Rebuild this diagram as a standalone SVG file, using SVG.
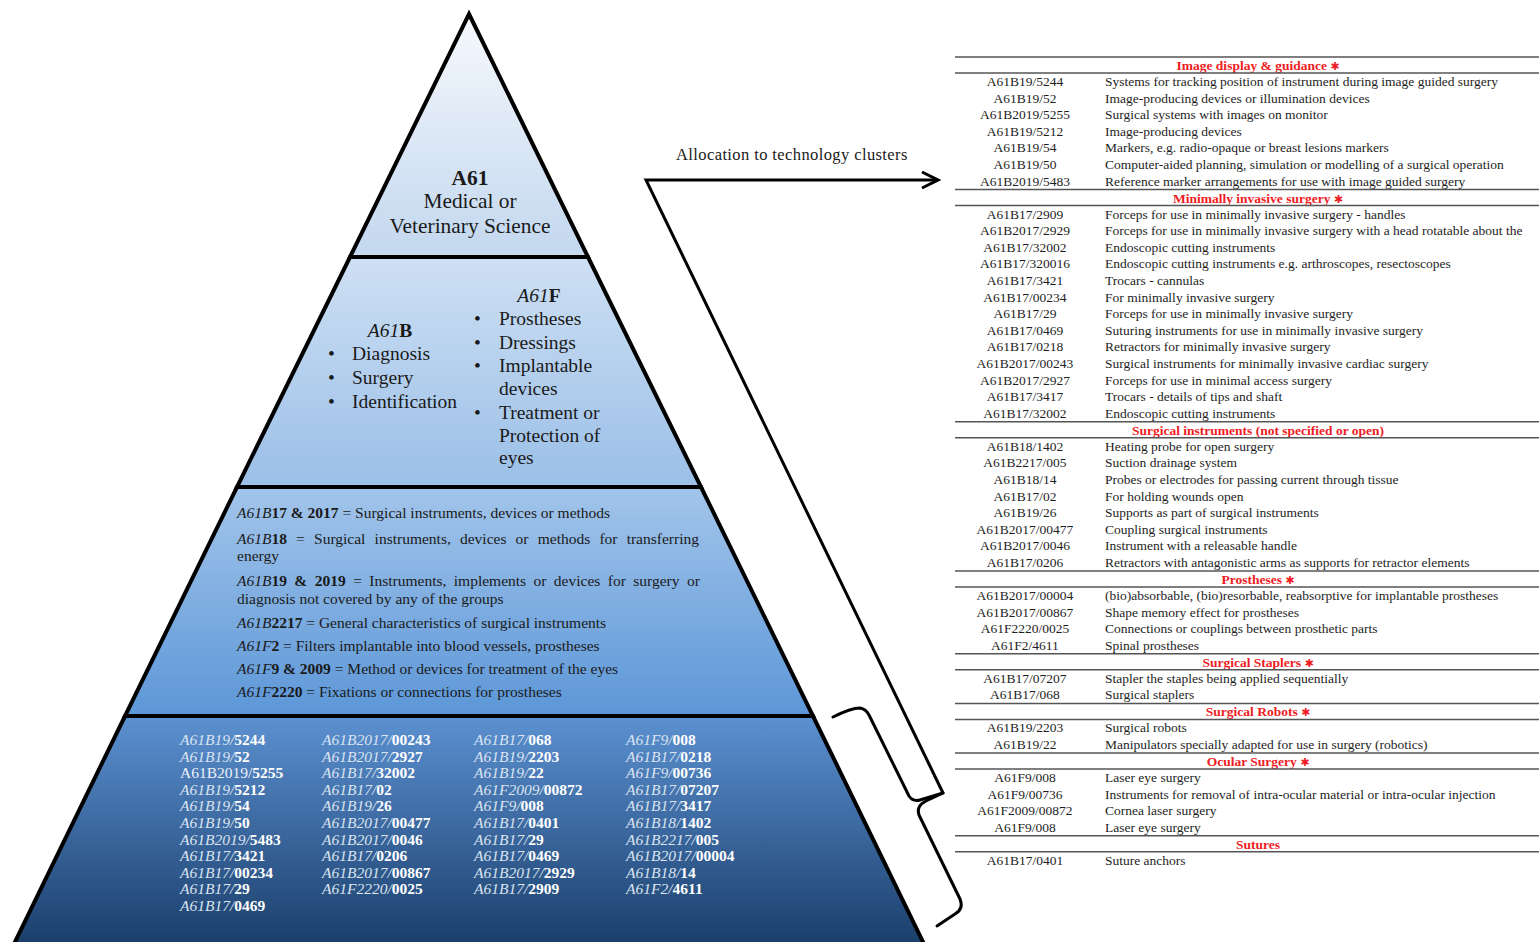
<svg xmlns="http://www.w3.org/2000/svg" width="1539" height="942" viewBox="0 0 1539 942">
<style>
text{font-family:"Liberation Serif","Times New Roman",serif}
.band{stroke:#000;stroke-width:4;stroke-linejoin:miter}
.t1{font-size:21.4px;fill:#1a1a1a;text-anchor:middle}
.t2{font-size:19.5px;fill:#1a1a1a}
.t3{font-size:15.5px;fill:#1a1a1a}
.i{font-style:italic}
.b{font-weight:bold}
.code{font-size:15.5px}
.ci{font-style:italic;fill:#dbe4f0}
.cr{fill:#eef2f8}
.cb{font-weight:bold;fill:#ffffff}
.hd{font-size:13.5px;font-weight:bold;fill:#ee1c24;text-anchor:middle}
.star{font-family:"DejaVu Sans",sans-serif;font-size:11px}
.cd{font-size:13.5px;fill:#1e1e1e;text-anchor:middle}
.ds{font-size:13.5px;fill:#1e1e1e}
.rule{stroke:#555;stroke-width:1.5}
.conn{fill:none;stroke:#000;stroke-width:3;stroke-linejoin:miter}
.brace{fill:none;stroke:#000;stroke-width:3;stroke-linecap:round;stroke-linejoin:round}
</style>
<defs>
<linearGradient id="pg" gradientUnits="userSpaceOnUse" x1="0" y1="14" x2="0" y2="942">
<stop offset="0" stop-color="#f6f9fd"/>
<stop offset="0.254" stop-color="#c4d8ef"/>
<stop offset="0.267" stop-color="#cddff3"/>
<stop offset="0.502" stop-color="#9cc0e8"/>
<stop offset="0.515" stop-color="#a1c4ea"/>
<stop offset="0.75" stop-color="#5e98d8"/>
<stop offset="0.762" stop-color="#5a8fcf"/>
<stop offset="1" stop-color="#1b3f6c"/>
</linearGradient>
<marker id="arr" markerUnits="userSpaceOnUse" markerWidth="20" markerHeight="20" refX="17" refY="9" orient="auto" viewBox="0 0 20 18">
<path d="M1,1 L17,9 L1,17" fill="none" stroke="#000" stroke-width="3"/>
</marker>
</defs>
<rect width="1539" height="942" fill="#fff"/>

<g id="level-a61">
<polygon class="band" fill="url(#pg)" points="469,14 588,257 350,257"/>
<text class="t1 b" x="470" y="185">A61</text>
<text class="t1" x="470" y="208">Medical or</text>
<text class="t1" x="470" y="233">Veterinary Science</text>
</g>

<g id="level-a61b-a61f">
<polygon class="band" fill="url(#pg)" points="350,257 588,257 701,487 237,487"/>
<text class="t2" x="390" y="337" text-anchor="middle"><tspan class="i">A61</tspan><tspan class="b">B</tspan></text>
<text class="t2" x="328" y="360">•</text><text class="t2" x="352" y="360">Diagnosis</text>
<text class="t2" x="328" y="384">•</text><text class="t2" x="352" y="384">Surgery</text>
<text class="t2" x="328" y="408">•</text><text class="t2" x="352" y="408">Identification</text>
<text class="t2" x="539" y="302" text-anchor="middle"><tspan class="i">A61</tspan><tspan class="b">F</tspan></text>
<text class="t2" x="474" y="325">•</text><text class="t2" x="499" y="325">Prostheses</text>
<text class="t2" x="474" y="349">•</text><text class="t2" x="499" y="349">Dressings</text>
<text class="t2" x="474" y="372">•</text><text class="t2" x="499" y="372">Implantable</text>
<text class="t2" x="499" y="395">devices</text>
<text class="t2" x="474" y="419">•</text><text class="t2" x="499" y="419">Treatment or</text>
<text class="t2" x="499" y="442">Protection of</text>
<text class="t2" x="499" y="464">eyes</text>
</g>

<g id="level-groups">
<polygon class="band" fill="url(#pg)" points="237,487 701,487 813,716 125,716"/>
<text class="t3" x="237" y="518"><tspan class="i">A61B</tspan><tspan class="b">17 &amp; 2017</tspan> = Surgical instruments, devices or methods</text>
<text class="t3" x="237" y="544" style="word-spacing:5.3px"><tspan class="i">A61B</tspan><tspan class="b">18</tspan> = Surgical instruments, devices or methods for transferring</text>
<text class="t3" x="237" y="561">energy</text>
<text class="t3" x="237" y="586" style="word-spacing:3.55px"><tspan class="i">A61B</tspan><tspan class="b">19 &amp; 2019</tspan> = Instruments, implements or devices for surgery or</text>
<text class="t3" x="237" y="604">diagnosis not covered by any of the groups</text>
<text class="t3" x="237" y="628"><tspan class="i">A61B</tspan><tspan class="b">2217</tspan> = General characteristics of surgical instruments</text>
<text class="t3" x="237" y="651"><tspan class="i">A61F</tspan><tspan class="b">2</tspan> = Filters implantable into blood vessels, prostheses</text>
<text class="t3" x="237" y="674"><tspan class="i">A61F</tspan><tspan class="b">9 &amp; 2009</tspan> = Method or devices for treatment of the eyes</text>
<text class="t3" x="237" y="697"><tspan class="i">A61F</tspan><tspan class="b">2220</tspan> = Fixations or connections for prostheses</text>
</g>

<g id="level-codes">
<polygon class="band" fill="url(#pg)" points="125,716 813,716 925,946 13,946"/>
<g class="code">
<text x="180" y="745"><tspan class="ci">A61B19/</tspan><tspan class="cb">5244</tspan></text>
<text x="180" y="761.6"><tspan class="ci">A61B19/</tspan><tspan class="cb">52</tspan></text>
<text x="180" y="778.2"><tspan class="cr">A61B2019/</tspan><tspan class="cb">5255</tspan></text>
<text x="180" y="794.8"><tspan class="ci">A61B19/</tspan><tspan class="cb">5212</tspan></text>
<text x="180" y="811.4"><tspan class="ci">A61B19/</tspan><tspan class="cb">54</tspan></text>
<text x="180" y="828"><tspan class="ci">A61B19/</tspan><tspan class="cb">50</tspan></text>
<text x="180" y="844.6"><tspan class="ci">A61B2019/</tspan><tspan class="cb">5483</tspan></text>
<text x="180" y="861.2"><tspan class="ci">A61B17/</tspan><tspan class="cb">3421</tspan></text>
<text x="180" y="877.8"><tspan class="ci">A61B17/</tspan><tspan class="cb">00234</tspan></text>
<text x="180" y="894.4"><tspan class="ci">A61B17/</tspan><tspan class="cb">29</tspan></text>
<text x="180" y="911"><tspan class="ci">A61B17/</tspan><tspan class="cb">0469</tspan></text>

<text x="322" y="745"><tspan class="ci">A61B2017/</tspan><tspan class="cb">00243</tspan></text>
<text x="322" y="761.6"><tspan class="ci">A61B2017/</tspan><tspan class="cb">2927</tspan></text>
<text x="322" y="778.2"><tspan class="ci">A61B17/</tspan><tspan class="cb">32002</tspan></text>
<text x="322" y="794.8"><tspan class="ci">A61B17/</tspan><tspan class="cb">02</tspan></text>
<text x="322" y="811.4"><tspan class="ci">A61B19/</tspan><tspan class="cb">26</tspan></text>
<text x="322" y="828"><tspan class="ci">A61B2017/</tspan><tspan class="cb">00477</tspan></text>
<text x="322" y="844.6"><tspan class="ci">A61B2017/</tspan><tspan class="cb">0046</tspan></text>
<text x="322" y="861.2"><tspan class="ci">A61B17/</tspan><tspan class="cb">0206</tspan></text>
<text x="322" y="877.8"><tspan class="ci">A61B2017/</tspan><tspan class="cb">00867</tspan></text>
<text x="322" y="894.4"><tspan class="ci">A61F2220/</tspan><tspan class="cb">0025</tspan></text>

<text x="474" y="745"><tspan class="ci">A61B17/</tspan><tspan class="cb">068</tspan></text>
<text x="474" y="761.6"><tspan class="ci">A61B19/</tspan><tspan class="cb">2203</tspan></text>
<text x="474" y="778.2"><tspan class="ci">A61B19/</tspan><tspan class="cb">22</tspan></text>
<text x="474" y="794.8"><tspan class="ci">A61F2009/</tspan><tspan class="cb">00872</tspan></text>
<text x="474" y="811.4"><tspan class="ci">A61F9/</tspan><tspan class="cb">008</tspan></text>
<text x="474" y="828"><tspan class="ci">A61B17/</tspan><tspan class="cb">0401</tspan></text>
<text x="474" y="844.6"><tspan class="ci">A61B17/</tspan><tspan class="cb">29</tspan></text>
<text x="474" y="861.2"><tspan class="ci">A61B17/</tspan><tspan class="cb">0469</tspan></text>
<text x="474" y="877.8"><tspan class="ci">A61B2017/</tspan><tspan class="cb">2929</tspan></text>
<text x="474" y="894.4"><tspan class="ci">A61B17/</tspan><tspan class="cb">2909</tspan></text>

<text x="626" y="745"><tspan class="ci">A61F9/</tspan><tspan class="cb">008</tspan></text>
<text x="626" y="761.6"><tspan class="ci">A61B17/</tspan><tspan class="cb">0218</tspan></text>
<text x="626" y="778.2"><tspan class="ci">A61F9/</tspan><tspan class="cb">00736</tspan></text>
<text x="626" y="794.8"><tspan class="ci">A61B17/</tspan><tspan class="cb">07207</tspan></text>
<text x="626" y="811.4"><tspan class="ci">A61B17/</tspan><tspan class="cb">3417</tspan></text>
<text x="626" y="828"><tspan class="ci">A61B18/</tspan><tspan class="cb">1402</tspan></text>
<text x="626" y="844.6"><tspan class="ci">A61B2217/</tspan><tspan class="cb">005</tspan></text>
<text x="626" y="861.2"><tspan class="ci">A61B2017/</tspan><tspan class="cb">00004</tspan></text>
<text x="626" y="877.8"><tspan class="ci">A61B18/</tspan><tspan class="cb">14</tspan></text>
<text x="626" y="894.4"><tspan class="ci">A61F2/</tspan><tspan class="cb">4611</tspan></text>
</g>
</g>

<g id="connectors">
<path class="conn" d="M943,793 L646,180 L938,180" marker-end="url(#arr)"/>
<path class="brace" d="M833,717 C843,712 852,708 860,708 Q866,709 869,715 L909,796 Q913,802 920,800 L943,793"/>
<path class="brace" d="M943,793 L926,801 Q916,806 919,815 L960,899 Q964,909 955,914 L937,926"/>
<text x="676" y="160" style="font-size:16.5px;fill:#1a1a1a;letter-spacing:0.4px">Allocation to technology clusters</text>
</g>

<g id="cluster-image-display">
<line class="rule" x1="955" y1="57" x2="1539" y2="57"/>
<text class="hd" x="1258" y="70">Image display &amp; guidance <tspan class="star">✱</tspan></text>
<line class="rule" x1="955" y1="73" x2="1539" y2="73"/>
<text class="cd" x="1025" y="86">A61B19/5244</text><text class="ds" x="1105" y="86">Systems for tracking position of instrument during image guided surgery</text>
<text class="cd" x="1025" y="102.6">A61B19/52</text><text class="ds" x="1105" y="102.6">Image-producing devices or illumination devices</text>
<text class="cd" x="1025" y="119.2">A61B2019/5255</text><text class="ds" x="1105" y="119.2">Surgical systems with images on monitor</text>
<text class="cd" x="1025" y="135.8">A61B19/5212</text><text class="ds" x="1105" y="135.8">Image-producing devices</text>
<text class="cd" x="1025" y="152.4">A61B19/54</text><text class="ds" x="1105" y="152.4">Markers, e.g. radio-opaque or breast lesions markers</text>
<text class="cd" x="1025" y="169">A61B19/50</text><text class="ds" x="1105" y="169">Computer-aided planning, simulation or modelling of a surgical operation</text>
<text class="cd" x="1025" y="185.6">A61B2019/5483</text><text class="ds" x="1105" y="185.6">Reference marker arrangements for use with image guided surgery</text>
</g>

<g id="cluster-minimally-invasive">
<line class="rule" x1="955" y1="189.6" x2="1539" y2="189.6"/>
<text class="hd" x="1258" y="202.6">Minimally invasive surgery <tspan class="star">✱</tspan></text>
<line class="rule" x1="955" y1="205.6" x2="1539" y2="205.6"/>
<text class="cd" x="1025" y="218.6">A61B17/2909</text><text class="ds" x="1105" y="218.6">Forceps for use in minimally invasive surgery - handles</text>
<text class="cd" x="1025" y="235.2">A61B2017/2929</text><text class="ds" x="1105" y="235.2">Forceps for use in minimally invasive surgery with a head rotatable about the</text>
<text class="cd" x="1025" y="251.8">A61B17/32002</text><text class="ds" x="1105" y="251.8">Endoscopic cutting instruments</text>
<text class="cd" x="1025" y="268.4">A61B17/320016</text><text class="ds" x="1105" y="268.4">Endoscopic cutting instruments e.g. arthroscopes, resectoscopes</text>
<text class="cd" x="1025" y="285">A61B17/3421</text><text class="ds" x="1105" y="285">Trocars - cannulas</text>
<text class="cd" x="1025" y="301.6">A61B17/00234</text><text class="ds" x="1105" y="301.6">For minimally invasive surgery</text>
<text class="cd" x="1025" y="318.2">A61B17/29</text><text class="ds" x="1105" y="318.2">Forceps for use in minimally invasive surgery</text>
<text class="cd" x="1025" y="334.8">A61B17/0469</text><text class="ds" x="1105" y="334.8">Suturing instruments for use in minimally invasive surgery</text>
<text class="cd" x="1025" y="351.4">A61B17/0218</text><text class="ds" x="1105" y="351.4">Retractors for minimally invasive surgery</text>
<text class="cd" x="1025" y="368">A61B2017/00243</text><text class="ds" x="1105" y="368">Surgical instruments for minimally invasive cardiac surgery</text>
<text class="cd" x="1025" y="384.6">A61B2017/2927</text><text class="ds" x="1105" y="384.6">Forceps for use in minimal access surgery</text>
<text class="cd" x="1025" y="401.2">A61B17/3417</text><text class="ds" x="1105" y="401.2">Trocars - details of tips and shaft</text>
<text class="cd" x="1025" y="417.8">A61B17/32002</text><text class="ds" x="1105" y="417.8">Endoscopic cutting instruments</text>
</g>

<g id="cluster-surgical-instruments">
<line class="rule" x1="955" y1="421.8" x2="1539" y2="421.8"/>
<text class="hd" x="1258" y="434.8">Surgical instruments (not specified or open)</text>
<line class="rule" x1="955" y1="437.8" x2="1539" y2="437.8"/>
<text class="cd" x="1025" y="450.8">A61B18/1402</text><text class="ds" x="1105" y="450.8">Heating probe for open surgery</text>
<text class="cd" x="1025" y="467.4">A61B2217/005</text><text class="ds" x="1105" y="467.4">Suction drainage system</text>
<text class="cd" x="1025" y="484">A61B18/14</text><text class="ds" x="1105" y="484">Probes or electrodes for passing current through tissue</text>
<text class="cd" x="1025" y="500.6">A61B17/02</text><text class="ds" x="1105" y="500.6">For holding wounds open</text>
<text class="cd" x="1025" y="517.2">A61B19/26</text><text class="ds" x="1105" y="517.2">Supports as part of surgical instruments</text>
<text class="cd" x="1025" y="533.8">A61B2017/00477</text><text class="ds" x="1105" y="533.8">Coupling surgical instruments</text>
<text class="cd" x="1025" y="550.4">A61B2017/0046</text><text class="ds" x="1105" y="550.4">Instrument with a releasable handle</text>
<text class="cd" x="1025" y="567">A61B17/0206</text><text class="ds" x="1105" y="567">Retractors with antagonistic arms as supports for retractor elements</text>
</g>

<g id="cluster-prostheses">
<line class="rule" x1="955" y1="571" x2="1539" y2="571"/>
<text class="hd" x="1258" y="584">Prostheses <tspan class="star">✱</tspan></text>
<line class="rule" x1="955" y1="587" x2="1539" y2="587"/>
<text class="cd" x="1025" y="600">A61B2017/00004</text><text class="ds" x="1105" y="600">(bio)absorbable, (bio)resorbable, reabsorptive for implantable prostheses</text>
<text class="cd" x="1025" y="616.6">A61B2017/00867</text><text class="ds" x="1105" y="616.6">Shape memory effect for prostheses</text>
<text class="cd" x="1025" y="633.2">A61F2220/0025</text><text class="ds" x="1105" y="633.2">Connections or couplings between prosthetic parts</text>
<text class="cd" x="1025" y="649.8">A61F2/4611</text><text class="ds" x="1105" y="649.8">Spinal prostheses</text>
</g>

<g id="cluster-staplers">
<line class="rule" x1="955" y1="653.8" x2="1539" y2="653.8"/>
<text class="hd" x="1258" y="666.8">Surgical Staplers <tspan class="star">✱</tspan></text>
<line class="rule" x1="955" y1="669.8" x2="1539" y2="669.8"/>
<text class="cd" x="1025" y="682.8">A61B17/07207</text><text class="ds" x="1105" y="682.8">Stapler the staples being applied sequentially</text>
<text class="cd" x="1025" y="699.4">A61B17/068</text><text class="ds" x="1105" y="699.4">Surgical staplers</text>
</g>

<g id="cluster-robots">
<line class="rule" x1="955" y1="703.4" x2="1539" y2="703.4"/>
<text class="hd" x="1258" y="716.4">Surgical Robots <tspan class="star">✱</tspan></text>
<line class="rule" x1="955" y1="719.4" x2="1539" y2="719.4"/>
<text class="cd" x="1025" y="732.4">A61B19/2203</text><text class="ds" x="1105" y="732.4">Surgical robots</text>
<text class="cd" x="1025" y="749">A61B19/22</text><text class="ds" x="1105" y="749">Manipulators specially adapted for use in surgery (robotics)</text>
</g>

<g id="cluster-ocular">
<line class="rule" x1="955" y1="753" x2="1539" y2="753"/>
<text class="hd" x="1258" y="766">Ocular Surgery <tspan class="star">✱</tspan></text>
<line class="rule" x1="955" y1="769" x2="1539" y2="769"/>
<text class="cd" x="1025" y="782">A61F9/008</text><text class="ds" x="1105" y="782">Laser eye surgery</text>
<text class="cd" x="1025" y="798.6">A61F9/00736</text><text class="ds" x="1105" y="798.6">Instruments for removal of intra-ocular material or intra-ocular injection</text>
<text class="cd" x="1025" y="815.2">A61F2009/00872</text><text class="ds" x="1105" y="815.2">Cornea laser surgery</text>
<text class="cd" x="1025" y="831.8">A61F9/008</text><text class="ds" x="1105" y="831.8">Laser eye surgery</text>
</g>

<g id="cluster-sutures">
<line class="rule" x1="955" y1="835.8" x2="1539" y2="835.8"/>
<text class="hd" x="1258" y="848.8">Sutures</text>
<line class="rule" x1="955" y1="851.8" x2="1539" y2="851.8"/>
<text class="cd" x="1025" y="864.8">A61B17/0401</text><text class="ds" x="1105" y="864.8">Suture anchors</text>
</g>
</svg>
